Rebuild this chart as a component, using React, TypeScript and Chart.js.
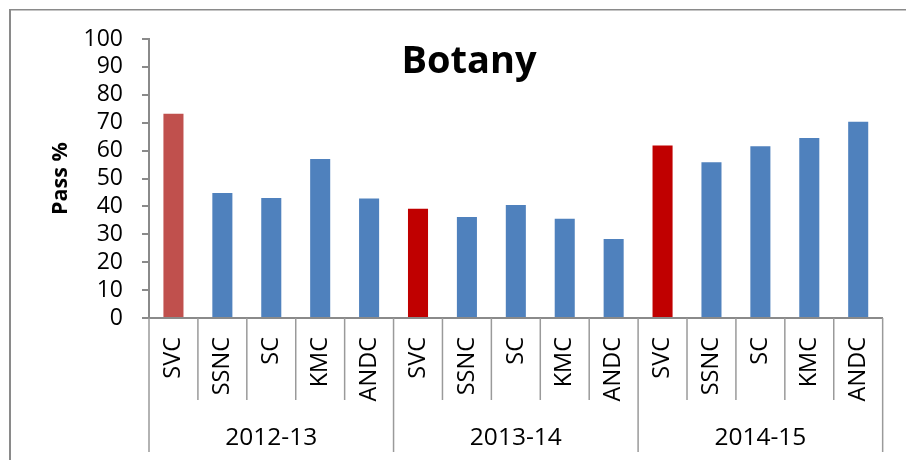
import React, { useEffect, useRef } from "react";
import { Chart, registerables } from "chart.js";

Chart.register(...registerables);

const TITLE = "Botany";
const Y_TITLE = "Pass %";
const YEARS = ["2012-13", "2013-14", "2014-15"];
const COLLEGES = ["SVC", "SSNC", "SC", "KMC", "ANDC"];
const PASS_2012_13 = [73.2, 44.8, 43.0, 57.0, 42.8];
const PASS_2013_14 = [39.2, 36.2, 40.5, 35.6, 28.3];
const PASS_2014_15 = [61.8, 55.8, 61.6, 64.5, 70.3];
const Y_MIN = 0;
const Y_MAX = 100;
const Y_STEP = 10;

const FONT = "'Open Sans', Lato, sans-serif";
const AXIS_GRAY = "#8a8a8a";
const BLUE = "#4F81BD";
const RED_FIRST = "#C0504D";
const RED_DARK = "#C00000";

const labels: string[] = [];
YEARS.forEach(() => COLLEGES.forEach((c) => labels.push(c)));
const values = [...PASS_2012_13, ...PASS_2013_14, ...PASS_2014_15];
const colors = values.map((_, i) => {
  const college = COLLEGES[i % COLLEGES.length];
  if (college === "SVC") return i === 0 ? RED_FIRST : RED_DARK;
  return BLUE;
});

const decorPlugin = {
  id: "decor",
  afterDraw(chart: any) {
    const ctx = chart.ctx;
    const x = chart.scales.x;
    const area = chart.chartArea;
    const n = labels.length;
    const per = COLLEGES.length;
    const step = x.getPixelForValue(1) - x.getPixelForValue(0);
    ctx.save();
    // outer border (top & left visible)
    ctx.fillStyle = AXIS_GRAY;
    ctx.fillRect(9, 9, chart.width - 9, 1.5);
    ctx.fillRect(9, 9, 2, chart.height - 9);
    // category separators
    ctx.strokeStyle = "#9a9a9a";
    ctx.lineWidth = 1.5;
    for (let i = 0; i <= n; i++) {
      const px = x.getPixelForValue(0) - step / 2 + i * step;
      const isGroup = i % per === 0;
      ctx.beginPath();
      ctx.moveTo(px, area.bottom);
      ctx.lineTo(px, isGroup ? area.bottom + 134 : area.bottom + 82);
      ctx.stroke();
    }
    // group labels
    ctx.fillStyle = "#000";
    ctx.font = `24.5px ${FONT}`;
    ctx.textAlign = "center";
    ctx.textBaseline = "alphabetic";
    YEARS.forEach((yr, g) => {
      const c0 = x.getPixelForValue(g * per);
      const c1 = x.getPixelForValue(g * per + per - 1);
      ctx.fillText(yr, (c0 + c1) / 2, area.bottom + 127);
    });
    // title inside plot area
    ctx.font = `bold 38px ${FONT}`;
    ctx.fillText(TITLE, 469, 73);
    ctx.restore();
  },
};

export default function App() {
  const ref = useRef<HTMLCanvasElement | null>(null);
  useEffect(() => {
    if (!ref.current) return;
    const chart = new Chart(ref.current, {
      type: "bar",
      data: {
        labels,
        datasets: [
          {
            data: values,
            backgroundColor: colors,
            borderWidth: 0,
            barPercentage: 0.41,
            categoryPercentage: 1,
          },
        ],
      },
      options: {
        responsive: false,
        animation: false,
        layout: { padding: { top: 39, right: 18, left: 0, bottom: 0 } },
        plugins: {
          legend: { display: false },
          tooltip: { enabled: false },
          title: { display: false },
        },
        scales: {
          x: {
            grid: { display: false, drawTicks: false, drawOnChartArea: false },
            border: { display: true, color: AXIS_GRAY, width: 2 },
            ticks: {
              autoSkip: false,
              minRotation: 90,
              maxRotation: 90,
              padding: 19,
              color: "#000",
              font: { family: FONT, size: 23.5 },
            },
            afterFit: (s: any) => {
              s.height = 142;
            },
          },
          y: {
            min: Y_MIN,
            max: Y_MAX,
            ticks: {
              stepSize: Y_STEP,
              autoSkip: false,
              maxTicksLimit: 20,
              padding: 19,
              color: "#000",
              font: { family: FONT, size: 23 },
            },
            grid: {
              drawOnChartArea: false,
              drawTicks: true,
              tickLength: 7,
              color: AXIS_GRAY,
              lineWidth: 2,
            },
            border: { display: true, color: AXIS_GRAY, width: 2 },
            title: {
              display: true,
              text: Y_TITLE,
              color: "#000",
              font: { family: FONT, size: 21.5, weight: "bold" },
              padding: { top: 48, bottom: 0 },
            },
            afterFit: (s: any) => {
              s.width = 149;
            },
          },
        },
      },
      plugins: [decorPlugin],
    });
    return () => chart.destroy();
  }, []);
  return (
    <div style={{ position: "absolute", left: 0, top: 0, width: 906, height: 460, background: "#fff" }}>
      <canvas ref={ref} width={906} height={460} />
    </div>
  );
}
